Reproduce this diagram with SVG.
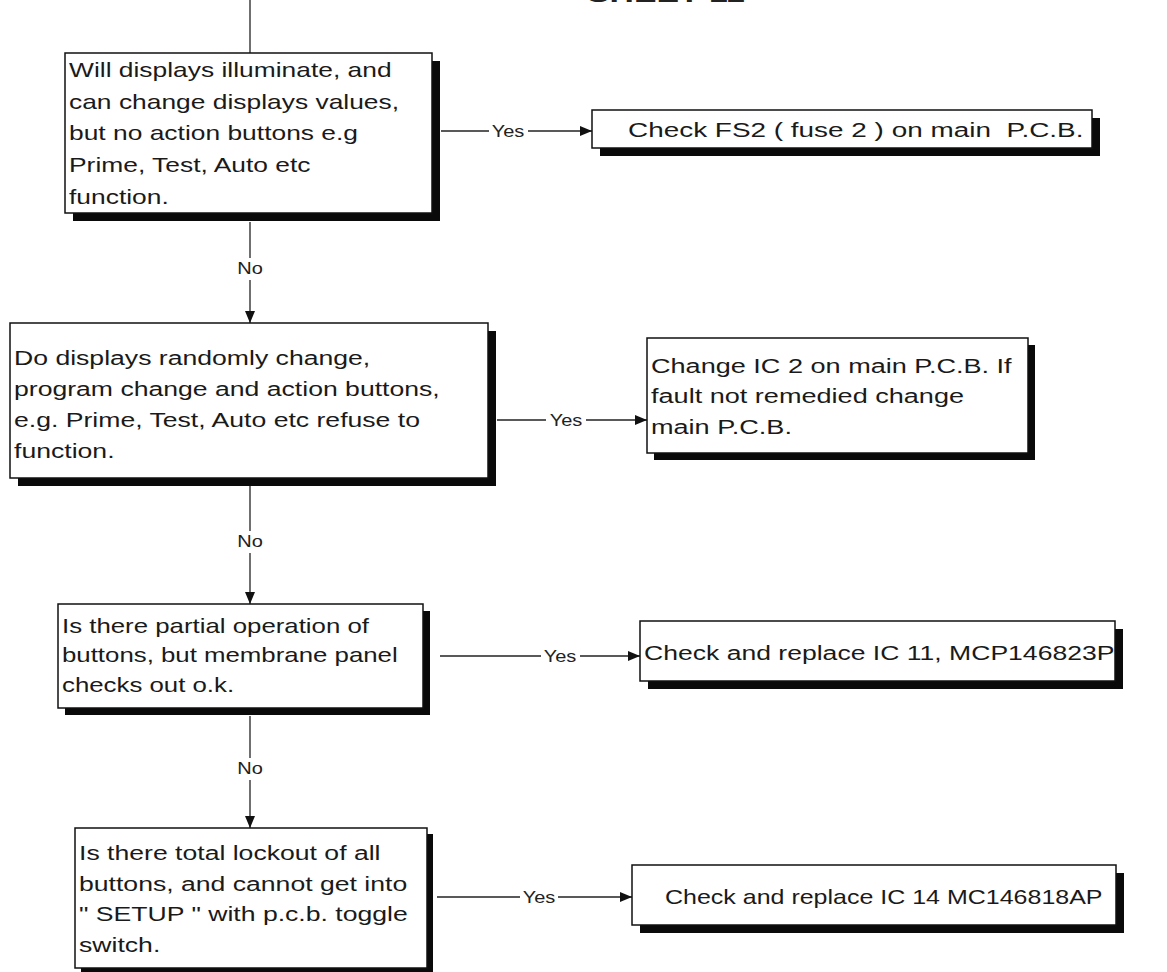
<svg xmlns="http://www.w3.org/2000/svg" width="1167" height="972" viewBox="0 0 1167 972">
<style>
.box{fill:#fff;stroke:#111;stroke-width:1.5}
.sh{fill:#0a0a0a}
.t{font-family:"Liberation Sans",Arial,sans-serif;font-size:21px;fill:#1a1a1a;white-space:pre}
.l{font-family:"Liberation Sans",Arial,sans-serif;font-size:16px;fill:#222}
.title{font-family:"Liberation Sans",Arial,sans-serif;font-size:26px;font-weight:bold;fill:#222}
.c{stroke:#222;stroke-width:1.3;fill:none}
</style>
<defs>
<marker id="ah" markerUnits="userSpaceOnUse" markerWidth="13" markerHeight="11" refX="12" refY="5" orient="auto">
<path d="M0,0 L12,5 L0,10 Z" fill="#111"/>
</marker>
</defs>
<rect width="1167" height="972" fill="#fff"/>
<text class="title" transform="translate(587 2) scale(1.3 1)">SHEET 11</text>

<g id="connectors">
<line class="c" x1="250" y1="0" x2="250" y2="53"/>
<line class="c" x1="441" y1="131" x2="489" y2="131"/>
<line class="c" x1="528" y1="131" x2="592" y2="131" marker-end="url(#ah)"/>
<text class="l" transform="translate(508 137) scale(1.25 1)" text-anchor="middle">Yes</text>
<line class="c" x1="250" y1="222" x2="250" y2="258"/>
<text class="l" transform="translate(250 274) scale(1.25 1)" text-anchor="middle">No</text>
<line class="c" x1="250" y1="280" x2="250" y2="323" marker-end="url(#ah)"/>

<line class="c" x1="497" y1="420" x2="546" y2="420"/>
<line class="c" x1="586" y1="420" x2="647" y2="420" marker-end="url(#ah)"/>
<text class="l" transform="translate(566 426) scale(1.25 1)" text-anchor="middle">Yes</text>
<line class="c" x1="250" y1="486" x2="250" y2="531"/>
<text class="l" transform="translate(250 547) scale(1.25 1)" text-anchor="middle">No</text>
<line class="c" x1="250" y1="553" x2="250" y2="604" marker-end="url(#ah)"/>

<line class="c" x1="440" y1="656" x2="541" y2="656"/>
<line class="c" x1="580" y1="656" x2="640" y2="656" marker-end="url(#ah)"/>
<text class="l" transform="translate(560 662) scale(1.25 1)" text-anchor="middle">Yes</text>
<line class="c" x1="250" y1="716" x2="250" y2="758"/>
<text class="l" transform="translate(250 774) scale(1.25 1)" text-anchor="middle">No</text>
<line class="c" x1="250" y1="780" x2="250" y2="828" marker-end="url(#ah)"/>

<line class="c" x1="437" y1="897" x2="520" y2="897"/>
<line class="c" x1="558" y1="897" x2="632" y2="897" marker-end="url(#ah)"/>
<text class="l" transform="translate(539 903) scale(1.25 1)" text-anchor="middle">Yes</text>
</g>

<g id="q1">
<rect class="sh" x="73" y="61" width="367" height="160"/>
<rect class="box" x="65" y="53" width="367" height="160"/>
<text class="t" transform="translate(69 77) scale(1.257 1)"><tspan x="0" y="0">Will displays illuminate, and</tspan><tspan x="0" y="32">can change displays values,</tspan><tspan x="0" y="63">but no action buttons e.g</tspan><tspan x="0" y="95">Prime, Test, Auto etc</tspan><tspan x="0" y="127">function.</tspan></text>
</g>

<g id="a1">
<rect class="sh" x="600" y="118" width="500" height="38"/>
<rect class="box" x="592" y="110" width="500" height="38"/>
<text class="t" transform="translate(628 137) scale(1.33 1)">Check FS2 ( fuse 2 ) on main  P.C.B.</text>
</g>

<g id="q2">
<rect class="sh" x="18" y="331" width="478" height="155"/>
<rect class="box" x="10" y="323" width="478" height="155"/>
<text class="t" transform="translate(14 365) scale(1.267 1)"><tspan x="0" y="0">Do displays randomly change,</tspan><tspan x="0" y="31">program change and action buttons,</tspan><tspan x="0" y="62">e.g. Prime, Test, Auto etc refuse to</tspan><tspan x="0" y="93">function.</tspan></text>
</g>

<g id="a2">
<rect class="sh" x="654" y="345" width="381" height="115"/>
<rect class="box" x="647" y="338" width="381" height="115"/>
<text class="t" transform="translate(651 373) scale(1.29 1)"><tspan x="0" y="0">Change IC 2 on main P.C.B. If</tspan><tspan x="0" y="30">fault not remedied change</tspan><tspan x="0" y="61">main P.C.B.</tspan></text>
</g>

<g id="q3">
<rect class="sh" x="65" y="611" width="365" height="104"/>
<rect class="box" x="58" y="604" width="365" height="104"/>
<text class="t" transform="translate(62 633) scale(1.23 1)"><tspan x="0" y="0">Is there partial operation of</tspan><tspan x="0" y="29">buttons, but membrane panel</tspan><tspan x="0" y="59">checks out o.k.</tspan></text>
</g>

<g id="a3">
<rect class="sh" x="648" y="629" width="475" height="60"/>
<rect class="box" x="640" y="621" width="475" height="60"/>
<text class="t" transform="translate(644 660) scale(1.265 1)">Check and replace IC 11, MCP146823P</text>
</g>

<g id="q4">
<rect class="sh" x="81" y="834" width="352" height="140"/>
<rect class="box" x="75" y="828" width="352" height="140"/>
<text class="t" transform="translate(79 860) scale(1.267 1)"><tspan x="0" y="0">Is there total lockout of all</tspan><tspan x="0" y="31">buttons, and cannot get into</tspan><tspan x="0" y="61">" SETUP " with p.c.b. toggle</tspan><tspan x="0" y="92">switch.</tspan></text>
</g>

<g id="a4">
<rect class="sh" x="640" y="873" width="484" height="60"/>
<rect class="box" x="632" y="865" width="484" height="60"/>
<text class="t" transform="translate(665 904) scale(1.19 1)">Check and replace IC 14 MC146818AP</text>
</g>
</svg>
